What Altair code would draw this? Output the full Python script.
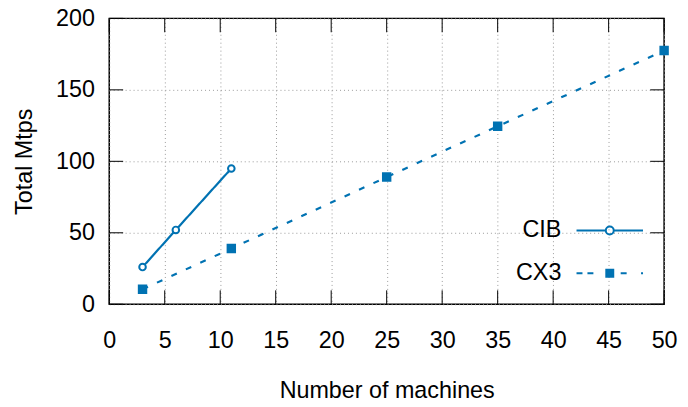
import altair as alt
import pandas as pd

# ---- data ----
series_names = ["CIB", "CX3"]
cib_x = [3, 6, 11]
cib_y = [26, 52, 95]
cx3_x = [3, 11, 25, 35, 50]
cx3_y = [10.5, 39, 89, 124.5, 177.5]
x_ticks = [0, 5, 10, 15, 20, 25, 30, 35, 40, 45, 50]
y_ticks = [0, 50, 100, 150, 200]

df = pd.DataFrame({
    "machines": cib_x + cx3_x,
    "mtps": cib_y + cx3_y,
    "series": ["CIB"] * len(cib_x) + ["CX3"] * len(cx3_x),
})
xt = pd.DataFrame({"machines": x_ticks})
yt = pd.DataFrame({"mtps": y_ticks})

BLUE = "#0072b2"
FONT = "Liberation Sans"
FS = 23.5
W, H = 559, 288
TICK = 14

xscale = alt.Scale(domain=[0, 50], nice=False, zero=False)
yscale = alt.Scale(domain=[0, 200], nice=False, zero=False)

GRID = dict(grid=True, gridDash=[1, 3], gridColor="#9a9a9a", gridWidth=1)

x_axis = alt.Axis(orient="bottom", values=x_ticks, title="Number of machines",
                  ticks=False, tickSize=0, domain=False, labelPadding=44,
                  labelBaseline="alphabetic", labelFlush=False,
                  titleX=W / 2, titleY=94, titleBaseline="alphabetic",
                  titleAlign="center", **GRID)
y_axis = alt.Axis(orient="left", values=y_ticks, title="Total Mtps",
                  ticks=False, tickSize=0, domain=False, labelPadding=15,
                  labelBaseline="middle", labelFlush=False,
                  titleX=-78.5, titleY=H / 2, titleAngle=270,
                  titleBaseline="alphabetic", titleAlign="center", **GRID)

X = alt.X("machines:Q", scale=xscale, axis=x_axis)
Y = alt.Y("mtps:Q", scale=yscale, axis=y_axis)

lines = alt.Chart(df).mark_line(color=BLUE, strokeWidth=2.2).encode(
    x=X, y=Y,
    strokeDash=alt.StrokeDash("series:N",
                              scale=alt.Scale(domain=series_names, range=[[1, 0], [6, 10]]),
                              legend=None),
)

points = alt.Chart(df).mark_point(filled=True, stroke=BLUE, strokeWidth=2, opacity=1).encode(
    x=X, y=Y,
    shape=alt.Shape("series:N", scale=alt.Scale(domain=series_names, range=["circle", "square"]),
                    legend=None),
    fill=alt.Fill("series:N", scale=alt.Scale(domain=series_names, range=["white", BLUE]),
                  legend=None),
    size=alt.Size("series:O", scale=alt.Scale(domain=series_names, range=[44, 56]), legend=None),
)

# inward tick marks on all four sides (gnuplot style), placed by the axis scales
tick_style = dict(color="black", strokeWidth=1)
ticks_bottom = alt.Chart(xt).mark_rule(**tick_style).encode(
    x=X, y=alt.value(H), y2=alt.value(H - TICK))
ticks_top = alt.Chart(xt).mark_rule(**tick_style).encode(
    x=X, y=alt.value(0), y2=alt.value(TICK))
ticks_left = alt.Chart(yt).mark_rule(**tick_style).encode(
    y=Y, x=alt.value(0), x2=alt.value(TICK))
ticks_right = alt.Chart(yt).mark_rule(**tick_style).encode(
    y=Y, x=alt.value(W), x2=alt.value(W - TICK))

# legend key glyphs (line + marker), label placed left of the glyph like gnuplot
cib_key = ("M-6.7,0H-0.8 M0.8,0H6.7 "
           "M0.8,0A0.8,0.8 0 1,1 -0.8,0A0.8,0.8 0 1,1 0.8,0")
cx3_key = ("M-6.7,0H-5.5 M-4.5,0H-3.3 M2.2,0H3.4 M6.3,0H6.7 "
           "M-0.7,-0.7H0.7V0.7H-0.7Z M-0.7,-0.35H0.7 M-0.7,0H0.7 M-0.7,0.35H0.7")

legend_layer = alt.Chart(df).transform_filter("datum.machines < 0").mark_point(
    filled=False, color=BLUE, strokeWidth=2, opacity=1
).encode(
    x=X, y=Y,
    shape=alt.Shape("series:N",
                    scale=alt.Scale(domain=series_names, range=[cib_key, cx3_key]),
                    legend=alt.Legend(orient="none", legendX=492.5, legendY=202, title=None,
                                      labelFont=FONT, labelFontSize=FS, labelColor="black",
                                      labelAlign="right", labelBaseline="middle",
                                      labelOffset={"expr": "-60.5"}, labelLimit=0,
                                      symbolSize=100, symbolStrokeWidth=2,
                                      symbolStrokeColor=BLUE, symbolFillColor="transparent",
                                      symbolOpacity=1, rowPadding=18, padding=0)),
)

chart = alt.layer(
    lines, points, ticks_bottom, ticks_top, ticks_left, ticks_right, legend_layer
).resolve_scale(
    shape="independent"
).properties(
    width=W, height=H,
    autosize=alt.AutoSizeParams(type="none"),
    padding={"left": 102, "top": 9, "right": 16, "bottom": 94},
).configure_view(
    stroke="black", strokeWidth=1.5
).configure_axis(
    labelFont=FONT, labelFontSize=FS, labelColor="black",
    titleFont=FONT, titleFontSize=FS, titleColor="black", titleFontWeight="normal",
)

chart.save("out.html", embed_options={"renderer": "svg", "actions": False})
